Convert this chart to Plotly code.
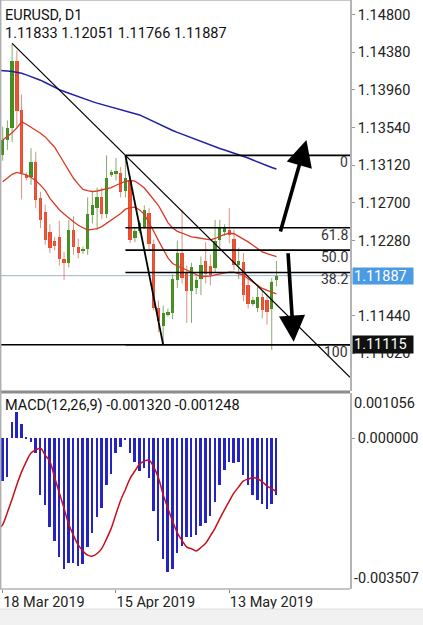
import plotly.graph_objects as go

# ---------------- data ----------------
bar_index = list(range(59))
opens = [1.1323, 1.1340, 1.1354, 1.1428, 1.1374, 1.1301, 1.1299, 1.1316, 1.1275, 1.1260,
         1.1237, 1.1227, 1.1232, 1.1207, 1.1203, 1.1240, 1.1221, 1.1216, 1.1218, 1.1256,
         1.1264, 1.1276, 1.1258, 1.1302, 1.1303, 1.1303, 1.1283, 1.1296, 1.1231, 1.1239,
         1.1243, 1.1259, 1.1224, 1.1153, 1.1133, 1.1145, 1.1147, 1.1184, 1.1214, 1.1193,
         1.1172, 1.1175, 1.1185, 1.1205, 1.1199, 1.1197, 1.1228, 1.1237, 1.1240, 1.1230,
         1.1201, 1.1204, 1.1178, 1.1157, 1.1153, 1.1165, 1.1161, 1.1152, 1.11833]
highs = [1.1355, 1.1362, 1.1448, 1.1440, 1.1391, 1.1304, 1.1331, 1.1327, 1.1282, 1.1268,
         1.1246, 1.1232, 1.1250, 1.1215, 1.1251, 1.1255, 1.1230, 1.1221, 1.1276, 1.1284,
         1.1287, 1.1287, 1.1323, 1.1307, 1.1320, 1.1310, 1.1323, 1.1300, 1.1243, 1.1250,
         1.1267, 1.1264, 1.1229, 1.1161, 1.1155, 1.1152, 1.1190, 1.1228, 1.1262, 1.1200,
         1.1203, 1.1188, 1.1210, 1.1226, 1.1212, 1.1251, 1.1251, 1.1246, 1.1264, 1.1240,
         1.1220, 1.1214, 1.1186, 1.1165, 1.1176, 1.1172, 1.1168, 1.1186, 1.12051]
lows = [1.1317, 1.1329, 1.1338, 1.1353, 1.1274, 1.1295, 1.1290, 1.1264, 1.1242, 1.1223,
        1.1214, 1.1217, 1.1200, 1.1184, 1.1198, 1.1212, 1.1208, 1.1213, 1.1212, 1.1247,
        1.1240, 1.1252, 1.1253, 1.1299, 1.1295, 1.1276, 1.1276, 1.1225, 1.1226, 1.1236,
        1.1241, 1.1218, 1.1150, 1.1126, 1.11115, 1.1143, 1.1140, 1.1175, 1.1180, 1.1136,
        1.1136, 1.1168, 1.1167, 1.1180, 1.1178, 1.1192, 1.1220, 1.1233, 1.1225, 1.1195,
        1.1185, 1.1160, 1.1152, 1.1155, 1.1148, 1.1141, 1.1134, 1.1106, 1.11766]
closes = [1.1340, 1.1354, 1.1428, 1.1372, 1.1303, 1.1298, 1.1316, 1.1273, 1.1251, 1.1228,
          1.1220, 1.1222, 1.1207, 1.1203, 1.1240, 1.1221, 1.1214, 1.1219, 1.1258, 1.1268,
          1.1276, 1.1258, 1.1298, 1.1304, 1.1305, 1.1282, 1.1298, 1.1228, 1.1238, 1.1247,
          1.1262, 1.1224, 1.1153, 1.1138, 1.1147, 1.1148, 1.1185, 1.1214, 1.1186, 1.1172,
          1.1198, 1.1184, 1.1201, 1.1190, 1.1189, 1.1227, 1.1243, 1.1242, 1.1234, 1.1201,
          1.1205, 1.1167, 1.1157, 1.1161, 1.1165, 1.1150, 1.1148, 1.1182, 1.11887]

ma_blue = [1.14178, 1.14172, 1.14165, 1.14157, 1.14146, 1.14128, 1.14110, 1.14090, 1.14069, 1.14043,
           1.14015, 1.13990, 1.13963, 1.13943, 1.13923, 1.13901, 1.13881, 1.13863, 1.13847, 1.13830,
           1.13813, 1.13798, 1.13784, 1.13772, 1.13758, 1.13745, 1.13729, 1.13714, 1.13697, 1.13681,
           1.13656, 1.13630, 1.13604, 1.13578, 1.13552, 1.13530, 1.13508, 1.13486, 1.13466, 1.13444,
           1.13421, 1.13400, 1.13379, 1.13361, 1.13341, 1.13323, 1.13306, 1.13290, 1.13273, 1.13257,
           1.13240, 1.13223, 1.13200, 1.13178, 1.13156, 1.13133, 1.13112, 1.13094, 1.13077]
env_upper = [1.13402, 1.13438, 1.13482, 1.13537, 1.13604, 1.13577, 1.13546, 1.13514, 1.13477, 1.13436,
             1.13383, 1.13321, 1.13234, 1.13145, 1.13051, 1.12974, 1.12909, 1.12849, 1.12835, 1.12825,
             1.12832, 1.12843, 1.12854, 1.12869, 1.12896, 1.12921, 1.12939, 1.12949, 1.12942, 1.12908,
             1.12865, 1.12801, 1.12735, 1.12670, 1.12576, 1.12479, 1.12419, 1.12381, 1.12363, 1.12340,
             1.12320, 1.12313, 1.12305, 1.12296, 1.12287, 1.12302, 1.12329, 1.12348, 1.12360, 1.12355,
             1.12326, 1.12297, 1.12264, 1.12226, 1.12190, 1.12153, 1.12134, 1.12114, 1.12099]
env_lower = [1.12935, 1.12976, 1.13018, 1.13039, 1.13025, 1.13012, 1.12982, 1.12950, 1.12898, 1.12840,
             1.12750, 1.12680, 1.12623, 1.12575, 1.12527, 1.12488, 1.12449, 1.12419, 1.12397, 1.12404,
             1.12413, 1.12434, 1.12469, 1.12507, 1.12544, 1.12580, 1.12629, 1.12647, 1.12652, 1.12621,
             1.12571, 1.12484, 1.12383, 1.12278, 1.12176, 1.12086, 1.12023, 1.11995, 1.11970, 1.11950,
             1.11923, 1.11897, 1.11875, 1.11878, 1.11882, 1.11895, 1.11907, 1.11918, 1.11927, 1.11927,
             1.11914, 1.11893, 1.11853, 1.11816, 1.11779, 1.11744, 1.11722, 1.11700, 1.11684]

macd_hist = [-0.00100, -0.00091, 0.00038, 0.00061, 0.00033, 0.00002, -0.00009, -0.00035, -0.00133, -0.00154,
             -0.00207, -0.00240, -0.00277, -0.00303, -0.00289, -0.00291, -0.00298, -0.00293, -0.00254, -0.00221,
             -0.00182, -0.00163, -0.00109, -0.00084, -0.00033, -0.00021, -0.00002, -0.00033, -0.00054, -0.00075,
             -0.00068, -0.00092, -0.00168, -0.00239, -0.00282, -0.00311, -0.00303, -0.00267, -0.00251, -0.00230,
             -0.00230, -0.00224, -0.00204, -0.00197, -0.00181, -0.00148, -0.00109, -0.00074, -0.00054, -0.00057,
             -0.00055, -0.00086, -0.00108, -0.00133, -0.00144, -0.00152, -0.00165, -0.00152, -0.00132]
macd_signal = [-0.00201, -0.00172, -0.00141, -0.00108, -0.00078, -0.00054, -0.00034, -0.00027, -0.00023, -0.00039,
               -0.00054, -0.00091, -0.00127, -0.00163, -0.00200, -0.00226, -0.00248, -0.00262, -0.00272, -0.00274,
               -0.00268, -0.00256, -0.00234, -0.00209, -0.00176, -0.00144, -0.00119, -0.00093, -0.00076, -0.00060,
               -0.00053, -0.00051, -0.00067, -0.00092, -0.00131, -0.00163, -0.00193, -0.00220, -0.00238, -0.00253,
               -0.00257, -0.00262, -0.00254, -0.00244, -0.00227, -0.00209, -0.00187, -0.00166, -0.00146, -0.00127,
               -0.00113, -0.00099, -0.00095, -0.00091, -0.00094, -0.00101, -0.00111, -0.00117, -0.001248]

date_tick_idx = [0, 24, 48]
date_tick_text = ["18 Mar 2019", "15 Apr 2019", "13 May 2019"]
# 1.11860 is hidden behind the current-price label in the reference
price_ticks = [1.14800, 1.14380, 1.13960, 1.13540, 1.13120, 1.12700, 1.12280, 1.11440, 1.11020]
macd_range = [-0.003507, 0.001056]

trend_anchor_idx = [2, 26]
trend_anchor_price = [1.14480, 1.13230]
fib_start_idx = 26
fib_end_idx = 34
fib_high = 1.13230
fib_low = 1.11115
fib_ratio_from_low = [1.0, 0.618, 0.5, 0.382, 0.0]
fib_labels = ["0", "61.8", "50.0", "38.2", "100"]
last_price = 1.11887
hline_price = 1.11115
arrow_up = [(58.75, 1.12363), (64.35, 1.13401)]
arrow_down = [(60.44, 1.12154), (61.65, 1.11150)]

# ---------------- figure ----------------
X_RANGE = [-0.572, 73.58]
Y_RANGE = [1.105994, 1.149641]
FONT = "Roboto, 'Open Sans', sans-serif"
GREEN = "#3f8f1f"
RED = "#f2482a"

fig = go.Figure()

# wicks
for up, col in [(True, "rgba(95,140,60,0.75)"), (False, "rgba(205,110,90,0.75)")]:
    wx, wy = [], []
    for i in bar_index:
        if (closes[i] >= opens[i]) == up:
            wx += [i, i, None]
            wy += [lows[i], highs[i], None]
    fig.add_trace(go.Scatter(x=wx, y=wy, mode="lines", line=dict(color=col, width=1),
                             hoverinfo="skip", showlegend=False, xaxis="x", yaxis="y"))

# bodies
fig.add_trace(go.Bar(
    x=bar_index,
    y=[max(abs(c - o), 0.00008) for o, c in zip(opens, closes)],
    base=[min(o, c) for o, c in zip(opens, closes)],
    width=0.7,
    marker=dict(color=[GREEN if c >= o else RED for o, c in zip(opens, closes)], line=dict(width=0)),
    showlegend=False, xaxis="x", yaxis="y"))

fig.add_trace(go.Scatter(x=bar_index, y=env_upper, mode="lines", line=dict(color="#d93a26", width=1.3),
                         showlegend=False, xaxis="x", yaxis="y"))
fig.add_trace(go.Scatter(x=bar_index, y=env_lower, mode="lines", line=dict(color="#d93a26", width=1.3),
                         showlegend=False, xaxis="x", yaxis="y"))
fig.add_trace(go.Scatter(x=[X_RANGE[0]] + bar_index, y=[ma_blue[0]] + ma_blue, mode="lines",
                         line=dict(color="#1f1fa8", width=1.5), showlegend=False, xaxis="x", yaxis="y"))

# MACD
fig.add_trace(go.Bar(x=bar_index, y=macd_hist, width=0.42, marker=dict(color="#2424c4", line=dict(width=0)),
                     showlegend=False, xaxis="x2", yaxis="y2"))
fig.add_trace(go.Scatter(x=[X_RANGE[0]] + bar_index, y=[macd_signal[0] - 0.00007] + macd_signal, mode="lines",
                         line=dict(color="#c8101a", width=1.5, shape="spline"),
                         showlegend=False, xaxis="x2", yaxis="y2"))

shapes = []
# last price line
shapes.append(dict(type="line", xref="x", yref="y", x0=X_RANGE[0], x1=X_RANGE[1], y0=last_price, y1=last_price,
                   line=dict(color="#9db4d2", width=1), layer="below"))
# horizontal line
shapes.append(dict(type="line", xref="x", yref="y", x0=X_RANGE[0], x1=X_RANGE[1], y0=hline_price, y1=hline_price,
                   line=dict(color="black", width=1.6)))
# trend line (ray)
slope = (trend_anchor_price[1] - trend_anchor_price[0]) / (trend_anchor_idx[1] - trend_anchor_idx[0])
shapes.append(dict(type="line", xref="x", yref="y", x0=trend_anchor_idx[0], y0=trend_anchor_price[0],
                   x1=X_RANGE[1], y1=trend_anchor_price[0] + slope * (X_RANGE[1] - trend_anchor_idx[0]),
                   line=dict(color="black", width=1.2)))
# fibonacci
shapes.append(dict(type="line", xref="x", yref="y", x0=fib_start_idx, y0=fib_high, x1=fib_end_idx, y1=fib_low,
                   line=dict(color="black", width=1.8)))
annotations = []
for r, lab in zip(fib_ratio_from_low, fib_labels):
    p = fib_low + (fib_high - fib_low) * r
    shapes.append(dict(type="line", xref="x", yref="y", x0=fib_start_idx, x1=X_RANGE[1], y0=p, y1=p,
                       line=dict(color="black", width=1.6)))
    annotations.append(dict(x=1, xref="paper", y=p, yref="y", xanchor="right", yanchor="top", xshift=0, yshift=3,
                            text=lab, showarrow=False, font=dict(family=FONT, size=14, color="#333")))

# frame / separators
H = 589.0
def py(px):
    return (H - px) / H
shapes.append(dict(type="rect", xref="paper", yref="paper", x0=0, x1=1, y0=py(393.5), y1=py(390.5),
                   fillcolor="#8c8c8c", line=dict(width=0)))
shapes.append(dict(type="line", xref="paper", yref="paper", x0=0, x1=1, y0=py(0.5), y1=py(0.5),
                   line=dict(color="#c8c8c8", width=1)))
shapes.append(dict(type="line", xref="paper", yref="paper", x0=0, x1=1, y0=0, y1=0,
                   line=dict(color="#8c8c8c", width=1.2)))
shapes.append(dict(type="line", xref="paper", yref="paper", x0=0.002, x1=0.002, y0=0, y1=1,
                   line=dict(color="#b0b0b0", width=1.5)))
shapes.append(dict(type="rect", xref="paper", yref="paper", x0=0, x1=423 / 350, y0=py(625), y1=py(609),
                   fillcolor="#f1f1f1", line=dict(width=0)))
shapes.append(dict(type="line", xref="paper", yref="paper", x0=0, x1=423 / 350, y0=py(609), y1=py(609),
                   line=dict(color="#dedede", width=1)))

# arrows
for (tail, tip) in [arrow_up, arrow_down]:
    annotations.append(dict(x=tip[0], y=tip[1], ax=tail[0], ay=tail[1], xref="x", yref="y", axref="x", ayref="y",
                            showarrow=True, arrowhead=2, arrowsize=1.45, arrowwidth=3.6, arrowcolor="black", text=""))

# headers
annotations.append(dict(x=0, xref="paper", y=1, yref="paper", xanchor="left", yanchor="top", xshift=3, yshift=-5,
                        text="EURUSD, D1", showarrow=False, font=dict(family=FONT, size=14.5, color="#111")))
annotations.append(dict(x=0, xref="paper", y=1, yref="paper", xanchor="left", yanchor="top", xshift=3, yshift=-23,
                        text="1.11833 1.12051 1.11766 1.11887", showarrow=False,
                        font=dict(family=FONT, size=14.5, color="#111")))
annotations.append(dict(x=0, xref="paper", y=py(393), yref="paper", xanchor="left", yanchor="top", xshift=3,
                        yshift=-2, text="MACD(12,26,9) -0.001320 -0.001248", showarrow=False,
                        font=dict(family=FONT, size=14.5, color="#111")))
# MACD extreme labels
annotations.append(dict(x=1, xref="paper", y=macd_range[1], yref="y2", xanchor="left", yanchor="top", xshift=2,
                        yshift=0, text=f"{macd_range[1]:.6f}", showarrow=False,
                        font=dict(family=FONT, size=14.5, color="#222")))
annotations.append(dict(x=1, xref="paper", y=macd_range[0], yref="y2", xanchor="left", yanchor="bottom", xshift=2,
                        yshift=0, text=f"{macd_range[0]:.6f}", showarrow=False,
                        font=dict(family=FONT, size=14.5, color="#222")))
# price labels
annotations.append(dict(x=1, xref="paper", y=last_price, yref="y", xanchor="left", yanchor="middle", xshift=2,
                        text=f"{last_price:.5f}", showarrow=False, bgcolor="#4b9ae4", width=58, height=14,
                        align="left", borderpad=1, font=dict(family=FONT, size=14.5, color="white")))
annotations.append(dict(x=1, xref="paper", y=hline_price, yref="y", xanchor="left", yanchor="middle", xshift=2,
                        text=f"{hline_price:.5f}", showarrow=False, bgcolor="#111111", width=58, height=15,
                        align="left", borderpad=1, font=dict(family=FONT, size=14.5, color="white")))

fig.update_layout(
    width=423, height=625,
    margin=dict(l=0, r=73, t=0, b=36),
    paper_bgcolor="white", plot_bgcolor="white",
    showlegend=False, bargap=0,
    font=dict(family=FONT, size=14.5, color="#222"),
    xaxis=dict(domain=[0, 1], range=X_RANGE, anchor="y", showticklabels=False, showgrid=False,
               zeroline=False, showline=False, ticks=""),
    xaxis2=dict(domain=[0, 1], range=X_RANGE, anchor="y2", matches="x", showgrid=False, zeroline=False,
                showline=False, tickmode="array", tickvals=date_tick_idx, ticktext=date_tick_text,
                ticks="outside", ticklen=3, tickcolor="#888", ticklabelposition="outside right",
                tickfont=dict(family=FONT, size=14.5, color="#222")),
    yaxis=dict(domain=[py(391), 1], range=Y_RANGE, anchor="x", side="right", showgrid=False, zeroline=False,
               showline=True, linecolor="#b4b4b4", linewidth=1.5, tickmode="array", tickvals=price_ticks,
               tickformat=".5f", ticks="outside", ticklen=3, tickcolor="#999",
               tickfont=dict(family=FONT, size=14.5, color="#222")),
    yaxis2=dict(domain=[0, py(393)], range=macd_range, anchor="x2", side="right", showgrid=False, zeroline=False,
                showline=True, linecolor="#b4b4b4", linewidth=1.5, tickmode="array", tickvals=[0],
                ticktext=["0.000000"], ticks="outside", ticklen=3, tickcolor="#999",
                tickfont=dict(family=FONT, size=14.5, color="#222")),
    shapes=shapes,
    annotations=annotations,
)

fig.write_html("out.html")
